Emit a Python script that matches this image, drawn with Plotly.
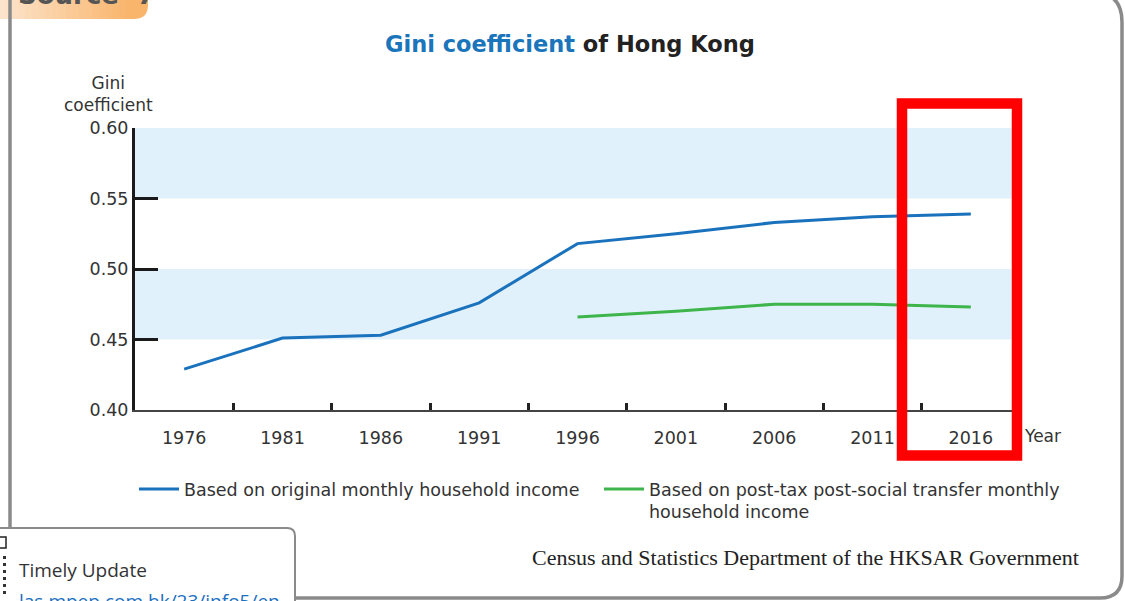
import plotly.graph_objects as go

# ---------------- data ----------------
years = ["1976", "1981", "1986", "1991", "1996", "2001", "2006", "2011", "2016"]
gini_original = [0.429, 0.451, 0.453, 0.476, 0.518, 0.525, 0.533, 0.537, 0.539]
years_post = ["1996", "2001", "2006", "2011", "2016"]
gini_post = [0.466, 0.470, 0.475, 0.475, 0.473]
y_ticks = [0.40, 0.45, 0.50, 0.55, 0.60]
y_tick_text = ["0.40", "0.45", "0.50", "0.55", "0.60"]
name_original = "Based on original monthly household income"
name_post = "Based on post-tax post-social transfer monthly<br>household income"

W, H = 1125, 601


def X(p):
    return p / W


def Y(p):
    return 1 - p / H


def path(cmds):
    out = []
    for c in cmds:
        op = c[0]
        if op == "Z":
            out.append("Z")
            continue
        pts = c[1:]
        conv = []
        for i in range(0, len(pts), 2):
            conv.append(f"{X(pts[i]):.5f},{Y(pts[i+1]):.5f}")
        out.append(op + " " + " ".join(conv))
    return " ".join(out)


BLUE = "#1a72bd"
GREEN = "#3db54a"
TXT = "#333333"
FONT = "DejaVu Sans, Verdana, sans-serif"

fig = go.Figure()
fig.add_trace(go.Scatter(
    x=years, y=gini_original, mode="lines", name=name_original, showlegend=True,
    line=dict(color=BLUE, width=3), legend="legend", hoverinfo="x+y"))
fig.add_trace(go.Scatter(
    x=years_post, y=gini_post, mode="lines", name=name_post, showlegend=True,
    line=dict(color=GREEN, width=3), legend="legend2", hoverinfo="x+y"))

shapes = []
# background bands
for lo, hi in [(0.45, 0.50), (0.55, 0.60)]:
    shapes.append(dict(type="rect", xref="paper", yref="y", x0=X(135), x1=X(1014),
                       y0=lo, y1=hi, fillcolor="#e1f1fb", line=dict(width=0), layer="below"))

# card outline
shapes.append(dict(type="path", xref="paper", yref="paper", layer="above",
                   path=path([("M", 10, -60), ("L", 10, 598), ("L", 1100, 598),
                              ("Q", 1122, 598, 1122, 576), ("L", 1122, 22),
                              ("Q", 1122, -8, 1092, -8), ("L", 10, -8)]),
                   line=dict(color="#8a8a8a", width=3.5)))
# Timely update box
shapes.append(dict(type="path", xref="paper", yref="paper", layer="above",
                   path=path([("M", -5, 528), ("L", 287, 528), ("Q", 295, 528, 295, 536),
                              ("L", 295, 610), ("L", -5, 610), ("Z",)]),
                   fillcolor="white", line=dict(color="#8a8a8a", width=2)))
# QR fragment
shapes.append(dict(type="rect", xref="paper", yref="paper", layer="above",
                   x0=X(-4), x1=X(6), y0=Y(548), y1=Y(537),
                   line=dict(color="#222", width=1.5)))
for yy in [556, 563, 570, 577, 584, 591]:
    shapes.append(dict(type="rect", xref="paper", yref="paper", layer="above",
                       x0=X(3), x1=X(6), y0=Y(yy + 3), y1=Y(yy),
                       fillcolor="#333", line=dict(width=0)))

# orange tab (gradient approximated with strips)
shapes.append(dict(type="path", xref="paper", yref="paper", layer="below",
                   path=path([("M", -2, -5), ("L", 148, -5), ("L", 148, 5),
                              ("Q", 148, 19, 134, 19), ("L", -2, 19), ("Z",)]),
                   fillcolor="#f9b56c", line=dict(width=0)))
n = 20
c0 = (252, 228, 204)
c1 = (249, 181, 108)
for i in range(n):
    t = i / (n - 1)
    col = tuple(int(round(c0[k] + (c1[k] - c0[k]) * t)) for k in range(3))
    x0 = -2 + i * 135 / n
    shapes.append(dict(type="rect", xref="paper", yref="paper", layer="below",
                       x0=X(x0), x1=X(x0 + 135 / n + 0.8), y0=Y(19), y1=Y(-5),
                       fillcolor="rgb(%d,%d,%d)" % col, line=dict(width=0)))

# red highlight
shapes.append(dict(type="rect", xref="paper", yref="paper", layer="above",
                   x0=X(902), x1=X(1017), y0=Y(455.5), y1=Y(103.5),
                   line=dict(color="#ff0000", width=10.5)))


def ann(text, x, y, xa="center", ya="middle", **font):
    return dict(text=text, x=X(x), y=Y(y), xref="paper", yref="paper",
                xanchor=xa, yanchor=ya, showarrow=False, font=font)


annotations = [
    ann("<b><span style='color:#1a75bb'>Gini coefficient</span> of Hong Kong</b>", 570, 44,
        family=FONT, size=22.5, color="#222"),
    ann("Gini<br>coefficient", 108, 94, family=FONT, size=17, color=TXT),
    ann("Year", 1022, 436, xa="left", family=FONT, size=17, color=TXT),
    ann("Census and Statistics Department of the HKSAR Government", 1081, 557, xa="right",
        family="Liberation Serif, Times New Roman, serif", size=22, color="#222"),
    ann("Timely Update", 17, 570, xa="left", family="Open Sans, sans-serif", size=19, color=TXT),
    ann("las.mpep.com.hk/23/info5/en", 17, 601, xa="left",
        family="Open Sans, sans-serif", size=19, color="#1a6fc0"),
    ann("<b>Source  7</b>", 16, 12, xa="left", ya="bottom", family=FONT, size=26, color="#555"),
]

fig.update_layout(
    width=W, height=H, margin=dict(l=0, r=0, t=0, b=0, autoexpand=False),
    paper_bgcolor="white", plot_bgcolor="rgba(0,0,0,0)", showlegend=True,
    shapes=shapes, annotations=annotations,
    xaxis=dict(domain=[X(135), X(1020)], type="category", categoryorder="array",
               categoryarray=years, range=[-0.5, 8.5], tickson="boundaries",
               ticks="inside", ticklen=7, tickwidth=3, tickcolor="#222",
               showline=True, linecolor="#444", linewidth=2, showgrid=False,
               zeroline=False, ticklabelstandoff=11, automargin=False,
               tickfont=dict(family=FONT, size=17.5, color=TXT)),
    yaxis=dict(domain=[Y(410), Y(128)], range=[0.40, 0.60], tickvals=y_ticks,
               ticktext=y_tick_text, ticks="inside", ticklen=23, tickwidth=3,
               tickcolor="#1a1a1a", showline=True, linecolor="#1a1a1a", linewidth=3,
               showgrid=False, zeroline=False, ticklabelstandoff=0, automargin=False,
               tickfont=dict(family=FONT, size=17.5, color=TXT)),
    legend=dict(x=X(134), y=Y(471), xanchor="left", yanchor="top", orientation="h",
                font=dict(family=FONT, size=17.5, color=TXT), bgcolor="rgba(0,0,0,0)",
                valign="top", itemwidth=40),
    legend2=dict(x=X(599), y=Y(471), xanchor="left", yanchor="top", orientation="h",
                 font=dict(family=FONT, size=17.5, color=TXT), bgcolor="rgba(0,0,0,0)",
                 valign="top", itemwidth=40),
    hovermode="closest",
)

fig.write_html("out.html")
